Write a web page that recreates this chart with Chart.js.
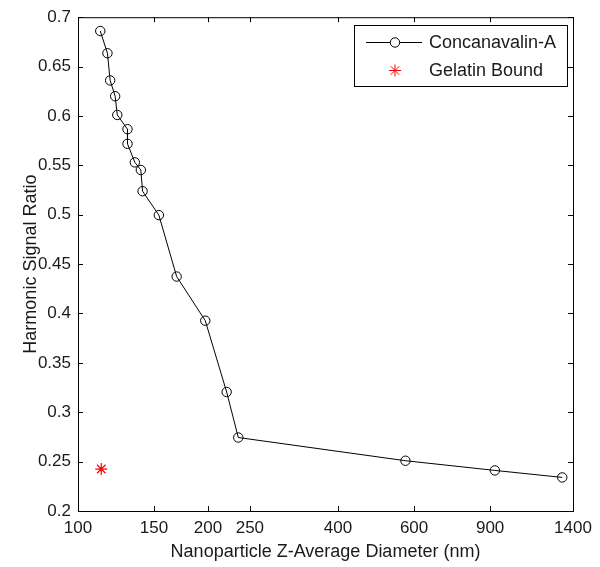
<!DOCTYPE html>
<html>
<head>
<meta charset="utf-8">
<script src="https://cdn.jsdelivr.net/npm/chart.js@4.4.1/dist/chart.umd.min.js"></script>
<style>
  html, body { margin: 0; padding: 0; background: #fff; }
  #wrap { width: 600px; height: 567px; }
</style>
</head>
<body>
<div id="wrap"><canvas id="chart" width="600" height="567"></canvas></div>
<script>
// ===== Data =====
const conA_diam = [112.6, 117, 118.7, 121.9, 123.3, 130.2, 130.2, 135.4, 139.8, 141.1, 153.9, 169.2, 197.1, 220.9, 235, 573, 923, 1322];
const conA_ratio = [0.686, 0.6635, 0.636, 0.62, 0.601, 0.5866, 0.5718, 0.553, 0.5453, 0.5238, 0.4996, 0.4374, 0.3927, 0.3205, 0.2744, 0.2509, 0.2411, 0.234];
const gel_diam = [113.2];
const gel_ratio = [0.2425];

const xTicks = [100, 150, 200, 250, 400, 600, 900, 1400];
const yTicks = [0.2, 0.25, 0.3, 0.35, 0.4, 0.45, 0.5, 0.55, 0.6, 0.65, 0.7];

const seriesNames = ["Concanavalin-A", "Gelatin Bound"];

const toPts = (xs, ys) => xs.map((x, i) => ({ x, y: ys[i] }));

const FONT = 'Arial, "Liberation Sans", sans-serif';
Chart.defaults.font.family = FONT;
Chart.defaults.font.size = 17;
Chart.defaults.color = "#1a1a1a";

// ===== Box + inward ticks (MATLAB style) =====
const boxPlugin = {
  id: "boxTicks",
  afterDraw(chart) {
    const { ctx, chartArea: a, scales } = chart;
    const L = 5;
    ctx.save();
    ctx.strokeStyle = "#000";
    ctx.lineWidth = 1;
    ctx.beginPath();
    xTicks.forEach(v => {
      const px = Math.round(scales.x.getPixelForValue(v)) + 0.5;
      ctx.moveTo(px, a.bottom); ctx.lineTo(px, a.bottom - L);
      ctx.moveTo(px, a.top); ctx.lineTo(px, a.top + L);
    });
    yTicks.forEach(v => {
      const py = Math.round(scales.y.getPixelForValue(v)) + 0.5;
      ctx.moveTo(a.left, py); ctx.lineTo(a.left + L, py);
      ctx.moveTo(a.right, py); ctx.lineTo(a.right - L, py);
    });
    ctx.stroke();
    ctx.strokeRect(a.left + 0.5, a.top + 0.5, a.right - a.left, a.bottom - a.top);
    ctx.restore();
  }
};

// ===== Legend (drawn inside plot, top right) =====
const legendPlugin = {
  id: "boxLegend",
  afterDraw(chart) {
    const { ctx } = chart;
    const ds = chart.data.datasets;
    const bx = 354.5, by = 25.5, bw = 213, bh = 61;
    ctx.save();
    ctx.fillStyle = "#fff";
    ctx.fillRect(bx, by, bw, bh);
    ctx.strokeStyle = "#000";
    ctx.lineWidth = 1;
    ctx.strokeRect(bx, by, bw, bh);

    const rows = [42.5, 70.5];
    const mx = 395;
    // row 1: line + circle
    ctx.beginPath();
    ctx.moveTo(366, rows[0]); ctx.lineTo(422, rows[0]);
    ctx.strokeStyle = ds[0].borderColor;
    ctx.stroke();
    Chart.helpers.drawPoint(ctx, {
      pointStyle: ds[0].pointStyle, radius: ds[0].pointRadius, borderWidth: 1, rotation: 0
    }, mx, rows[0]);
    ctx.strokeStyle = ds[1].borderColor;
    ctx.fillStyle = ds[1].borderColor;
    Chart.helpers.drawPoint(ctx, {
      pointStyle: ds[1].pointStyle, radius: ds[1].pointRadius, borderWidth: 1, rotation: 0
    }, mx, rows[1]);

    ctx.fillStyle = "#1a1a1a";
    ctx.font = "18px " + FONT;
    ctx.textBaseline = "middle";
    ctx.textAlign = "left";
    ctx.fillText(seriesNames[0], 429, rows[0] + 1);
    ctx.fillText(seriesNames[1], 429, rows[1] + 1);
    ctx.restore();
  }
};

new Chart(document.getElementById("chart"), {
  type: "scatter",
  data: {
    datasets: [
      {
        label: seriesNames[0],
        data: toPts(conA_diam, conA_ratio),
        showLine: true,
        borderColor: "#000",
        borderWidth: 1,
        pointStyle: "circle",
        pointRadius: 4.7,
        pointBorderColor: "#000",
        pointBorderWidth: 1,
        pointBackgroundColor: "rgba(0,0,0,0)",
        tension: 0
      },
      {
        label: seriesNames[1],
        data: toPts(gel_diam, gel_ratio),
        showLine: false,
        borderColor: "#ff0000",
        backgroundColor: "#ff0000",
        pointStyle: "star",
        pointRadius: 6,
        pointBorderWidth: 1.2
      }
    ]
  },
  options: {
    responsive: false,
    animation: false,
    layout: { padding: { top: 15, right: 27, left: 0, bottom: 0 } },
    plugins: { legend: { display: false }, tooltip: { enabled: false } },
    scales: {
      x: {
        type: "logarithmic",
        min: 100,
        max: 1400,
        afterBuildTicks: s => { s.ticks = xTicks.map(v => ({ value: v })); },
        afterFit: s => { s.height = 56; },
        ticks: { callback: v => String(v), padding: 7, maxRotation: 0, autoSkip: false },
        grid: { display: false, drawTicks: false },
        border: { display: false },
        title: { display: true, text: "Nanoparticle Z-Average Diameter (nm)", font: { size: 18 }, padding: { top: 0, bottom: 4 } }
      },
      y: {
        type: "linear",
        min: 0.2,
        max: 0.7,
        afterBuildTicks: s => { s.ticks = yTicks.map(v => ({ value: v })); },
        afterFit: s => { s.width = 78; },
        ticks: { callback: v => String(+v.toFixed(2)), padding: 7 },
        grid: { display: false, drawTicks: false },
        border: { display: false },
        title: { display: true, text: "Harmonic Signal Ratio", font: { size: 18 }, padding: { top: 20, bottom: 0 } }
      }
    }
  },
  plugins: [boxPlugin, legendPlugin]
});
</script>
</body>
</html>
